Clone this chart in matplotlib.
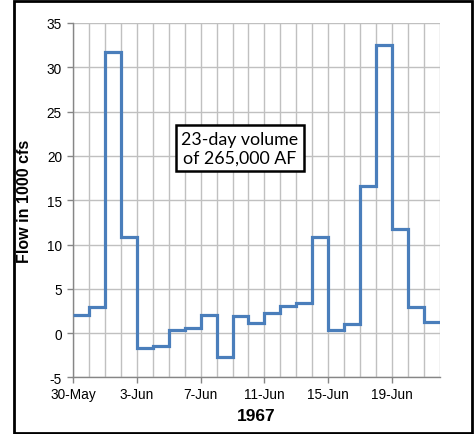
import matplotlib.pyplot as plt
import numpy as np
from matplotlib.patches import Rectangle
from matplotlib.ticker import MultipleLocator

# daily flow, 30-May to 21-Jun 1967, in 1000 cfs
flow = np.array([2.0, 3.0, 31.7, 10.8, -1.7, -1.5, 0.3, 0.6, 2.0, -2.7, 1.9, 1.1,
                 2.3, 3.1, 3.4, 10.9, 0.3, 1.0, 16.6, 32.5, 11.8, 2.9, 1.3])
tick_days = [0, 4, 8, 12, 16, 20]
tick_labels = ['30-May', '3-Jun', '7-Jun', '11-Jun', '15-Jun', '19-Jun']
note = '23-day volume\nof 265,000 AF'

plt.rcParams['font.family'] = ['Liberation Sans', 'DejaVu Sans']
plt.rcParams['axes.unicode_minus'] = False

fig = plt.figure(figsize=(4.74, 4.35), dpi=100)
ax = fig.add_axes([0.154, 0.130, 0.774, 0.815])

edges = np.arange(len(flow) + 1)
ax.stairs(flow, edges, baseline=None, color='#4a7ebb', linewidth=2.3, zorder=3)

ax.set_xlim(0, len(flow))
ax.set_ylim(-5, 35)
ax.set_xticks(tick_days, tick_labels)
ax.xaxis.set_minor_locator(MultipleLocator(1))
ax.yaxis.set_major_locator(MultipleLocator(5))
ax.grid(which='both', axis='x', color='#c0c0c0', linewidth=1.0)
ax.grid(which='major', axis='y', color='#c0c0c0', linewidth=1.0)
ax.set_axisbelow(True)

for s in ['top', 'right']:
    ax.spines[s].set_visible(False)
for s in ['left', 'bottom']:
    ax.spines[s].set_color('#868686')
    ax.spines[s].set_linewidth(1.0)

ax.tick_params(which='major', direction='out', length=4, width=1, color='#868686',
               labelsize=9.8, labelcolor='black')
ax.tick_params(axis='x', which='major', pad=3)
ax.tick_params(axis='y', which='major', pad=4)
ax.tick_params(which='minor', length=0)

ax.set_ylabel('Flow in 1000 cfs', fontsize=11.5, fontweight='bold')
ax.yaxis.set_label_coords(-0.112, 0.5)
ax.set_xlabel('1967', fontsize=12.5, fontweight='bold')
ax.xaxis.set_label_coords(0.5, -0.085)

ax.text(10.47, 20.9, note, ha='center', va='center', fontsize=12.8,
        family=['Lato', 'DejaVu Sans'], linespacing=1.2, zorder=4,
        bbox=dict(boxstyle='square,pad=0.32', facecolor='white',
                  edgecolor='black', linewidth=1.8))

fig.add_artist(Rectangle((14 / 474, 1 / 435), 458 / 474, 432 / 435,
                         transform=fig.transFigure, fill=False,
                         edgecolor='black', linewidth=2))

fig.savefig('out.png', dpi=100)
